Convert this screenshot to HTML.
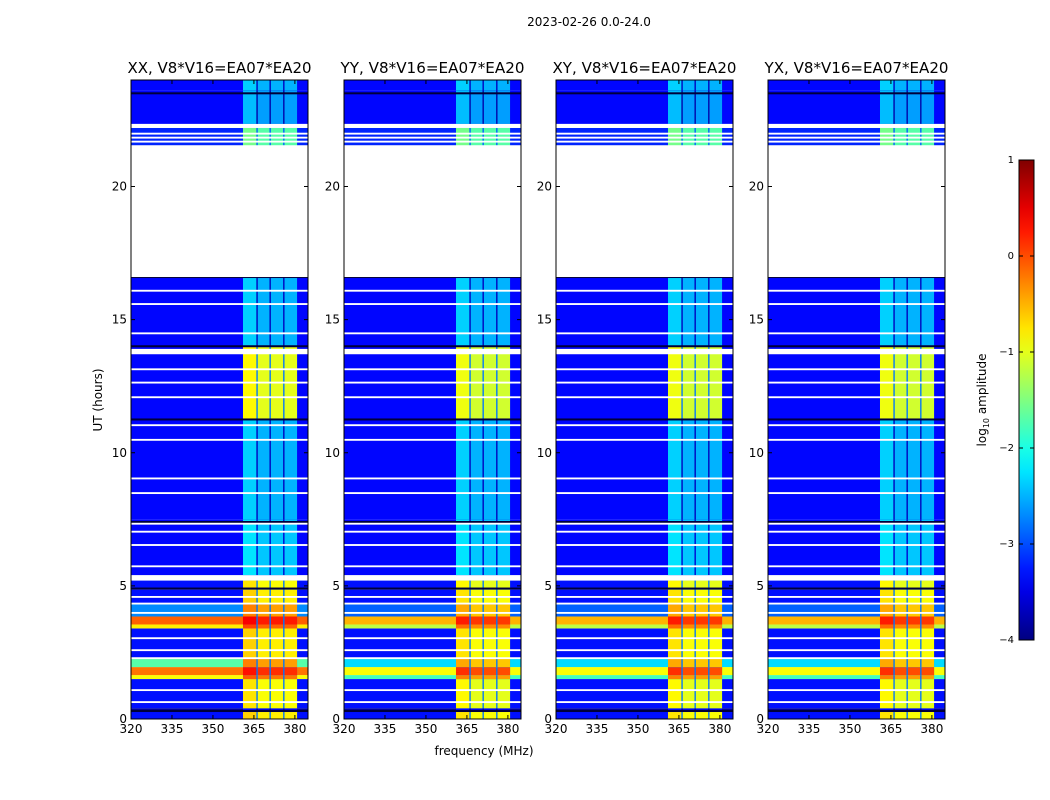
<!DOCTYPE html>
<html><head><meta charset="utf-8">
<style>
body{margin:0;background:#fff;width:1050px;height:800px;overflow:hidden;font-family:"DejaVu Sans","Liberation Sans",sans-serif;}
svg{display:block}
text{font-family:"DejaVu Sans","Liberation Sans",sans-serif;fill:#000}
</style></head>
<body>
<svg id="fig" width="1050" height="800">
<text x="589" y="26" font-size="12" text-anchor="middle">2023-02-26 0.0-24.0</text>
<text transform="translate(102,400) rotate(-90)" font-size="12" text-anchor="middle">UT (hours)</text>
<text x="484" y="755" font-size="12" text-anchor="middle">frequency (MHz)</text>
<g id="panels"></g>
<g id="cbar"></g>
</svg>
<script>
// ---- data ----
const pols = ["XX","YY","XY","YX"];
const baseline = "V8*V16=EA07*EA20";
const xTicks = [320,335,350,365,380];
const yTicks = [0,5,10,15,20];
const cbTicks = [1,0,-1,-2,-3,-4];
// time rows (hours)
const rowStart = [0.0,0.3,0.4,1.5,1.65,1.95,2.3,3.4,3.55,3.85,4.3,4.85,5.4,7.5,11.25,14.0,21.5,22.35,23.6];
const rowEnd   = [0.3,0.4,1.5,1.65,1.95,2.3,3.4,3.55,3.85,4.3,4.85,5.2,7.5,11.25,14.0,16.6,22.2,23.6,24.0];
// log10 amplitude outside RFI band, per polarization group
const bgXX     = [-3.3,-3.9,-3.3,-0.9,-0.2,-1.7,-3.3,-0.8,-0.1,-2.7,-3.3,-3.3,-3.35,-3.35,-3.35,-3.35,-3.2,-3.35,-3.35];
const bgCross  = [-3.3,-3.9,-3.3,-1.8,-0.9,-2.3,-3.3,-1.2,-0.5,-2.9,-3.3,-3.3,-3.35,-3.35,-3.35,-3.35,-3.2,-3.35,-3.35];
// log10 amplitude inside RFI channels
const rfiXX    = [-0.8,-3.5,-0.9,-0.2,0.15,-0.4,-0.8,-0.1,0.25,-0.4,-0.8,-0.9,-2.4,-2.5,-1.0,-2.5,-1.7,-2.6,-2.5];
const rfiCross = [-0.9,-3.5,-1.0,-0.4,0.0,-0.6,-0.9,-0.3,0.1,-0.6,-0.9,-1.0,-2.4,-2.5,-1.1,-2.5,-1.7,-2.6,-2.5];
// RFI channel edges (MHz)
const chanStart = [361.0,366.4,371.2,376.2];
const chanEnd   = [365.9,370.7,375.7,380.8];
// no-data gaps (hours)
const gapStart = [16.6,22.2,21.95,21.8,21.65,16.05,15.55,14.45,13.7,13.1,12.6,12.05,11.0,10.45,9.0,8.45,7.3,7.0,6.5,5.7,5.2,4.55,4.3,3.95,3.0,2.55,2.25,1.05,0.6];
const gapEnd   = [21.55,22.35,22.02,21.87,21.72,16.12,15.62,14.52,13.9,13.17,12.67,12.12,11.07,10.52,9.07,8.52,7.37,7.07,6.57,5.77,5.4,4.62,4.37,4.02,3.07,2.62,2.32,1.12,0.67];
// dark (flagged-low) lines
const darkHr = [0.3,4.9,7.4,11.25,14.0,16.6,21.5,23.5];

// ---- geometry ----
const panelX = [131,344,556,768];
const PW = 177, Y0 = 80, PH = 639;
const F0 = 320, F1 = 384.8, T0 = 0, T1 = 24;
const NS = "http://www.w3.org/2000/svg";
function jet(v){
  let t = (v+4)/5; t = Math.max(0,Math.min(1,t));
  const r = Math.max(0,Math.min(1,1.5-Math.abs(4*t-3)));
  const g = Math.max(0,Math.min(1,1.5-Math.abs(4*t-2)));
  const b = Math.max(0,Math.min(1,1.5-Math.abs(4*t-1)));
  return `rgb(${Math.round(r*255)},${Math.round(g*255)},${Math.round(b*255)})`;
}
function mk(tag, attrs, parent){
  const e = document.createElementNS(NS, tag);
  for (const k in attrs) e.setAttribute(k, attrs[k]);
  parent.appendChild(e); return e;
}
const panelsG = document.getElementById('panels');
pols.forEach((p, pi) => {
  const px = panelX[pi];
  const xs = f => px + (f - F0) / (F1 - F0) * PW;
  const ys = h => Y0 + PH - (h - T0) / (T1 - T0) * PH;
  const g = mk('g', {}, panelsG);
  
  
  const bgArr = pi === 0 ? bgXX : bgCross;
  const rfArr = pi === 0 ? rfiXX : rfiCross;
  const cells = mk('g', {}, g);
  
  
  for (let i = 0; i < rowStart.length; i++) {
    const y1 = ys(rowEnd[i]), y2 = ys(rowStart[i]);
    const r = mk('rect', {x: xs(F0), y: y1, width: xs(F1) - xs(F0), height: y2 - y1, fill: jet(bgArr[i])}, cells);
    
    
    const gm = mk('rect', {x: xs(chanStart[0]), y: y1, width: xs(chanEnd[3]) - xs(chanStart[0]), height: y2 - y1, fill: jet(Math.min(-2.8, rfArr[i] - 1.2))}, cells);
    
    
    for (let c = 0; c < chanStart.length; c++) {
      const cr = mk('rect', {x: xs(chanStart[c]), y: y1, width: xs(chanEnd[c]) - xs(chanStart[c]), height: y2 - y1, fill: jet(rfArr[i] + (c === 0 ? 0.15 : 0))}, cells);
      
      
    }
  }
  darkHr.forEach(h => {
    const d = mk('rect', {x: px, y: ys(h) - 1, width: PW, height: 2, fill: '#00003a'}, cells);
    
    
  });
  for (let i = 0; i < gapStart.length; i++) {
    const w = mk('rect', {x: px, y: ys(gapEnd[i]), width: PW, height: Math.max(1.5, ys(gapStart[i]) - ys(gapEnd[i])), fill: '#fff'}, cells);
    
    
  }
  const fr = mk('rect', {x: px, y: Y0, width: PW, height: PH, fill: 'none', stroke: '#000', 'stroke-width': 1}, g);
  
  
  const tt = mk('text', {x: px + PW / 2, y: 73, 'font-size': 15, 'text-anchor': 'middle', textLength: 184, lengthAdjust: 'spacingAndGlyphs'}, g);
  tt.textContent = p + ', ' + baseline;
  
  
  xTicks.forEach(f => {
    const x = xs(f);
    mk('line', {x1: x, x2: x, y1: Y0 + PH, y2: Y0 + PH - 4, stroke: '#000'}, g);
    mk('line', {x1: x, x2: x, y1: Y0, y2: Y0 + 4, stroke: '#000'}, g);
    const t = mk('text', {x: x, y: Y0 + PH + 14, 'font-size': 12, 'text-anchor': 'middle'}, g);
    t.textContent = f;
    
    
  });
  yTicks.forEach(h => {
    const y = ys(h);
    mk('line', {x1: px, x2: px + 4, y1: y, y2: y, stroke: '#000'}, g);
    mk('line', {x1: px + PW, x2: px + PW - 4, y1: y, y2: y, stroke: '#000'}, g);
    const t = mk('text', {x: px - 4, y: y + 4, 'font-size': 12, 'text-anchor': 'end'}, g);
    t.textContent = h;
    
    
  });
});
// colorbar
const cb = document.getElementById('cbar');
const CBX = 1019, CBW = 15, CBY = 160, CBH = 480;
const defs = mk('defs', {}, cb);
const lg = mk('linearGradient', {id: 'jetg', x1: 0, y1: 1, x2: 0, y2: 0}, defs);
for (let i = 0; i <= 20; i++) {
  mk('stop', {offset: i / 20, 'stop-color': jet(-4 + 5 * i / 20)}, lg);
}
const cbr = mk('rect', {x: CBX, y: CBY, width: CBW, height: CBH, fill: 'url(#jetg)', stroke: '#000', 'stroke-width': 1}, cb);


cbTicks.forEach(v => {
  const y = CBY + CBH - (v + 4) / 5 * CBH;
  mk('line', {x1: CBX, x2: CBX + 4, y1: y, y2: y, stroke: '#000'}, cb);
  mk('line', {x1: CBX + CBW, x2: CBX + CBW - 4, y1: y, y2: y, stroke: '#000'}, cb);
  const t = mk('text', {x: 1014, y: y + 3, 'font-size': 10, 'text-anchor': 'end'}, cb);
  t.textContent = v < 0 ? '\u2212' + (-v) : v;
  
  
});
const cl = mk('text', {transform: 'translate(986,400) rotate(-90)', 'font-size': 12, 'text-anchor': 'middle'}, cb);
cl.innerHTML = 'log<tspan font-size="8" dy="3">10</tspan><tspan dy="-3"> amplitude</tspan>';


</script>
</body></html>
